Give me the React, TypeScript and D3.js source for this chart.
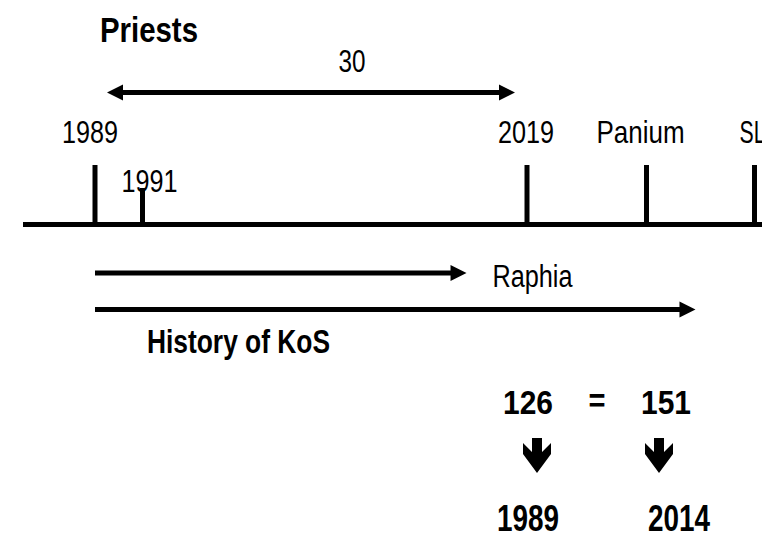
import React from "react"
import * as d3 from "d3"

// timeline events (label, year on the time axis, short tick?)
const eventLabels = ["1989", "1991", "2019", "Panium", "SL"]
const eventYears = [1989, 1992.3, 2019, 2027.3, 2034.8]
const eventMinor = [false, true, false, false, false]

// the "30" span arrow on top
const spanLabel = "30"
const spanYears = [1989, 2019]

// period arrows below the axis
const periodLabels = ["Raphia", "History of KoS"]
const periodStarts = [1989, 1989]
const periodEnds = [2014.8, 2030.7]

// bottom equation
const eqValues = ["126", "151"]
const eqYears = ["1989", "2014"]

const width = 762
const height = 535
const FONT = "'Liberation Sans Narrow', 'Liberation Sans', Arial, sans-serif"

const hArrow = (x1: number, x2: number, y: number, both = false, t = 5, hl = 16, hh = 8) => {
  const p = d3.path()
  const sx = both ? x1 + hl : x1
  p.rect(sx, y - t / 2, x2 - hl - sx, t)
  p.moveTo(x2, y)
  p.lineTo(x2 - hl, y - hh)
  p.lineTo(x2 - hl, y + hh)
  p.closePath()
  if (both) {
    p.moveTo(x1, y)
    p.lineTo(x1 + hl, y - hh)
    p.lineTo(x1 + hl, y + hh)
    p.closePath()
  }
  return p.toString()
}

const downArrow = (cx: number, top: number) => {
  const pts: [number, number][] = [
    [cx - 5, top], [cx + 5, top], [cx + 5, top + 14], [cx + 14, top + 5], [cx + 14, top + 16],
    [cx, top + 35], [cx - 14, top + 16], [cx - 14, top + 5], [cx - 5, top + 14],
  ]
  return d3.line()(pts.concat([pts[0]])) as string
}

export default function App() {
  const x = d3.scaleLinear().domain([1989, 2019]).range([95, 527])
  const axisY = 224.5
  const labelNudge: Record<string, number> = { "1989": -5, "1991": 7, "2019": -1, Panium: -6 }
  const col = d3.scalePoint<number>().domain([0, 1]).range([528, 666])

  const txt = (s: string, px: number, py: number, size: number, len: number, bold = false, anchor = "middle") => (
    <text
      x={px}
      y={py}
      fontFamily={FONT}
      fontSize={size}
      fontWeight={bold ? "bold" : "normal"}
      textAnchor={anchor}
      textLength={len}
      lengthAdjust="spacingAndGlyphs"
      fill="#000"
    >
      {s}
    </text>
  )

  return (
    <svg width={width} height={height} style={{ position: "absolute", left: 0, top: 0, display: "block", background: "#fff" }}>
      {txt("Priests", 100, 42, 35, 98, true, "start")}

      {/* span arrow */}
      <path d={hArrow(x(spanYears[0]) + 12, x(spanYears[1]) - 12, 92.5, true)} fill="#000" />
      {txt(spanLabel, (x(spanYears[0]) + x(spanYears[1])) / 2 + 41, 72, 32, 27)}

      {/* axis */}
      <line x1={23} x2={width} y1={axisY} y2={axisY} stroke="#000" strokeWidth={5} />
      {eventLabels.map((lab, i) => {
        const ex = x(eventYears[i])
        const top = eventMinor[i] ? 188 : 165
        return (
          <g key={lab}>
            <line x1={ex} x2={ex} y1={top} y2={axisY} stroke="#000" strokeWidth={5} />
            {lab === "SL"
              ? txt(lab, ex - 15, 143, 32, 26, false, "start")
              : txt(lab, ex + (labelNudge[lab] || 0), eventMinor[i] ? 192 : 143, 32, lab === "Panium" ? 88 : 56)}
          </g>
        )
      })}

      {/* period arrows */}
      <path d={hArrow(x(periodStarts[0]), x(periodEnds[0]), 273)} fill="#000" />
      {txt(periodLabels[0], x(periodEnds[0]) + 26, 287, 31, 80, false, "start")}
      <path d={hArrow(x(periodStarts[1]), x(periodEnds[1]), 309.5)} fill="#000" />
      {txt(periodLabels[1], 147, 353, 33, 183, true, "start")}

      {/* equation */}
      {eqValues.map((v, i) => (
        <g key={v}>
          {txt(v, col(i)!, 414, 34, 50, true)}
          <path d={downArrow(col(i)! + (i === 0 ? 9 : -7), 438)} fill="#000" />
          {txt(eqYears[i], col(i)! + (i === 0 ? 0 : 13), 531, 36, 62, true)}
        </g>
      ))}
      {txt("=", (col(0)! + col(1)!) / 2, 412, 34, 17, true)}
    </svg>
  )
}
